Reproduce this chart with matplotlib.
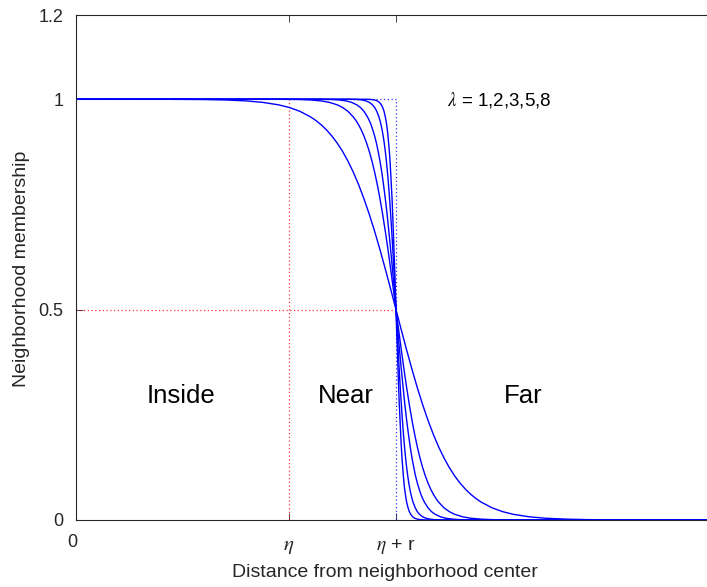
import matplotlib
matplotlib.use("Agg")
import matplotlib.pyplot as plt

plt.rcParams['font.family'] = ['Liberation Sans', 'DejaVu Sans']
plt.rcParams['mathtext.fontset'] = 'stix'

# eta = 2, eta + r = 3 (distance units)
ETA = 2.0
ETA_R = 3.0

# membership levels, and the distance where each curve reaches them
levels = [1.0, 0.9998, 0.9991, 0.9981, 0.9958, 0.9924, 0.9865, 0.9802, 0.9710,
          0.9577, 0.9491, 0.9388, 0.9266, 0.9121, 0.8952, 0.8755, 0.8526, 0.8264,
          0.7966, 0.7631, 0.7261, 0.6857, 0.6422, 0.5963, 0.5486, 0.5,
          0.4514, 0.4037, 0.3578, 0.3143, 0.2739, 0.2369, 0.2034, 0.1736, 0.1474,
          0.1245, 0.1048, 0.0879, 0.0734, 0.0612, 0.0509, 0.0423, 0.0290, 0.0198,
          0.0135, 0.0076, 0.0042, 0.0020, 0.0009, 0.0002, 0.0]

lambdas = [1, 2, 3, 5, 8]
dist_l1 = [0.0, 0.8, 1.2, 1.4, 1.6, 1.75, 1.9, 2.0, 2.1, 2.2, 2.25, 2.3, 2.35, 2.4,
           2.45, 2.5, 2.55, 2.6, 2.65, 2.7, 2.75, 2.8, 2.85, 2.9, 2.95, 3.0,
           3.05, 3.1, 3.15, 3.2, 3.25, 3.3, 3.35, 3.4, 3.45, 3.5, 3.55, 3.6, 3.65,
           3.7, 3.75, 3.8, 3.9, 4.0, 4.1, 4.25, 4.4, 4.6, 4.8, 5.2, 6.0]
dist_l2 = [0.0, 1.9, 2.1, 2.2, 2.3, 2.375, 2.45, 2.5, 2.55, 2.6, 2.625, 2.65, 2.675,
           2.7, 2.725, 2.75, 2.775, 2.8, 2.825, 2.85, 2.875, 2.9, 2.925, 2.95, 2.975, 3.0,
           3.025, 3.05, 3.075, 3.1, 3.125, 3.15, 3.175, 3.2, 3.225, 3.25, 3.275, 3.3,
           3.325, 3.35, 3.375, 3.4, 3.45, 3.5, 3.55, 3.625, 3.7, 3.8, 3.9, 4.1, 6.0]
dist_l3 = [0.0, 2.267, 2.4, 2.467, 2.533, 2.583, 2.633, 2.667, 2.7, 2.733, 2.75, 2.767,
           2.783, 2.8, 2.817, 2.833, 2.85, 2.867, 2.883, 2.9, 2.917, 2.933, 2.95, 2.967,
           2.983, 3.0,
           3.017, 3.033, 3.05, 3.067, 3.083, 3.1, 3.117, 3.133, 3.15, 3.167, 3.183, 3.2,
           3.217, 3.233, 3.25, 3.267, 3.3, 3.333, 3.367, 3.417, 3.467, 3.533, 3.6, 3.733, 6.0]
dist_l5 = [0.0, 2.56, 2.64, 2.68, 2.72, 2.75, 2.78, 2.8, 2.82, 2.84, 2.85, 2.86, 2.87,
           2.88, 2.89, 2.9, 2.91, 2.92, 2.93, 2.94, 2.95, 2.96, 2.97, 2.98, 2.99, 3.0,
           3.01, 3.02, 3.03, 3.04, 3.05, 3.06, 3.07, 3.08, 3.09, 3.1, 3.11, 3.12, 3.13,
           3.14, 3.15, 3.16, 3.18, 3.2, 3.22, 3.25, 3.28, 3.32, 3.36, 3.44, 6.0]
dist_l8 = [0.0, 2.725, 2.775, 2.8, 2.825, 2.844, 2.863, 2.875, 2.888, 2.9, 2.906, 2.913,
           2.919, 2.925, 2.931, 2.938, 2.944, 2.95, 2.956, 2.963, 2.969, 2.975, 2.981,
           2.988, 2.994, 3.0,
           3.006, 3.013, 3.019, 3.025, 3.031, 3.038, 3.044, 3.05, 3.056, 3.063, 3.069,
           3.075, 3.081, 3.088, 3.094, 3.1, 3.113, 3.125, 3.138, 3.156, 3.175, 3.2,
           3.225, 3.275, 6.0]

regions = ["Inside", "Near", "Far"]
region_x = [0.984, 2.531, 4.19]

W, H = 707, 587
fig = plt.figure(figsize=(W / 100, H / 100), dpi=100)
ax = fig.add_axes([76 / W, 67 / H, 640 / W, 505 / H])

# dotted guides
dots = (0, (1, 2))
ax.plot([ETA, ETA], [0, 1], color='red', lw=0.9, ls=dots, alpha=0.8)
ax.plot([0, ETA_R], [0.5, 0.5], color='red', lw=0.9, ls=dots, alpha=0.8)
ax.plot([0, ETA_R, ETA_R], [1, 1, 0], color='blue', lw=0.9, ls=dots, alpha=0.8)

for d in [dist_l1, dist_l2, dist_l3, dist_l5, dist_l8]:
    ax.plot(d, levels, color='blue', lw=1.0)

ax.set_xlim(0, 6)
ax.set_ylim(0, 1.2)
ax.set_yticks([0, 0.5, 1, 1.2])
ax.set_yticklabels(['0', '0.5', '1', '1.2'])
ax.set_xticks([0, ETA, ETA_R])
ax.set_xticklabels([])
ax.tick_params(direction='in', length=5, width=0.6, color='0.15',
               labelsize=13, labelcolor='0.15', pad=9, top=True, right=True)
for s in ax.spines.values():
    s.set_color('0.15')
    s.set_linewidth(0.8)

for name, x in zip(regions, region_x):
    ax.text(x, 0.2945, name, fontsize=18.5, ha='center', va='center')
ax.text(3.478, 0.9976, r'$\lambda$ = ' + ','.join(str(l) for l in lambdas),
        fontsize=13.5, ha='left', va='center')

# x tick labels and axis labels
fig.text(72 / W, 1 - 547 / H, '0', fontsize=13, color='0.15', ha='center', va='baseline')
fig.text(289 / W, 1 - 550 / H, r'$\eta$', fontsize=15, color='0.15', ha='center', va='baseline')
fig.text(396 / W, 1 - 550 / H, r'$\eta$ + r', fontsize=14, color='0.15', ha='center', va='baseline')
fig.text(385 / W, 1 - 577 / H, 'Distance from neighborhood center', fontsize=14,
         color='0.15', ha='center', va='baseline')
fig.text(22 / W, 1 - 269 / H, 'Neighborhood membership', fontsize=14, color='0.15',
         rotation=90, ha='center', va='center')

fig.savefig('out.png', dpi=100)
